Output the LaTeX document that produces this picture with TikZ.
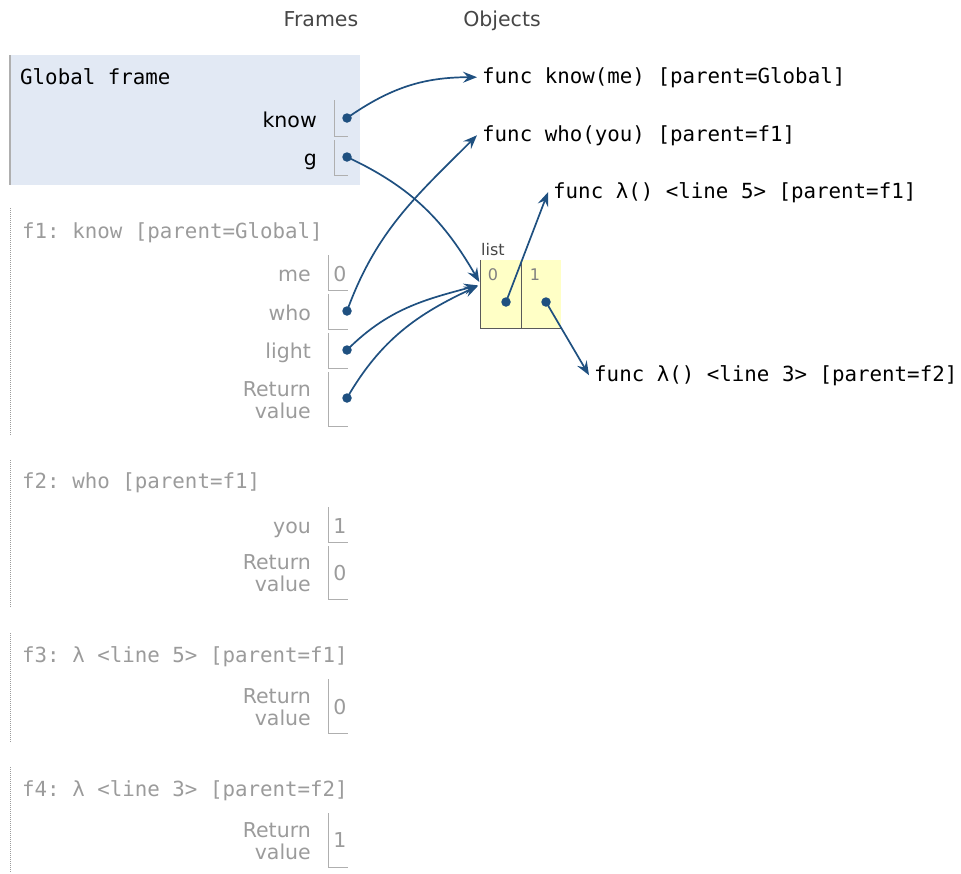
\documentclass[tikz,border=0pt]{standalone}
\usepackage{fontspec}
\setmainfont{DejaVu Sans}
\setmonofont{DejaVu Sans Mono}
\usetikzlibrary{arrows.meta,positioning}

\definecolor{ptr}{RGB}{31,80,128}
\definecolor{globalbg}{RGB}{226,233,244}
\definecolor{fgray}{RGB}{155,155,155}
\definecolor{slotgray}{RGB}{175,175,175}
\definecolor{hdrgray}{RGB}{70,70,70}
\definecolor{listbg}{RGB}{255,255,198}
\definecolor{listline}{RGB}{90,90,90}

\begin{document}
\begin{tikzpicture}[x=1pt,y=1pt,
  every node/.style={inner sep=0pt},
  mono/.style={font=\ttfamily\fontsize{20.8}{25}\selectfont},
  sans/.style={font=\fontsize{20.5}{22}\selectfont},
  hdr/.style={sans, text=hdrgray, anchor=base},
  ftitle/.style={mono, text=fgray, anchor=base west},
  var/.style={sans, anchor=base east},
  rv/.style={sans, align=right, anchor=east, text=fgray},
  val/.style={sans, anchor=base, text=fgray},
  slot/.style={draw=slotgray, line width=1pt},
  frameedge/.style={draw=fgray, line width=1pt, densely dotted},
  dot/.style={circle, fill=ptr, minimum size=9.5pt},
  obj/.style={mono, anchor=base west, inner xsep=5pt},
  ptrarrow/.style={draw=ptr, line width=1.7pt, -{Stealth[length=14pt,width=11pt,inset=5pt]}},
  cell/.style={fill=listbg, minimum width=40pt, minimum height=68pt},
]
\useasboundingbox (0,0) rectangle (961,-873);

\node[hdr] (hframes) at (321,-26) {Frames};
\node[hdr] (hobjects) at (502,-26) {Objects};

\fill[globalbg] (9,-55) rectangle (360,-185);
\draw[slotgray, line width=2pt] (10,-55) -- (10,-185);
\node[mono, anchor=base west] (gtitle) at (20,-84) {Global frame};
\node[var] (vknow) at (317,-127) {know};
\node[var] (vg) at (317,-165) {g};
\draw[slot] (334,-100) |- (348,-136);
\draw[slot] (334,-140) |- (348,-175);
\node[dot] (dknow) at (347,-118) {};
\node[dot] (dg) at (347,-157) {};

\draw[frameedge] (10,-208) -- (10,-436);
\node[ftitle] (f1title) at (22,-238) {f1: know [parent=Global]};
\node[var, text=fgray] (vme) at (311,-281) {me};
\node[var, text=fgray] (vwho) at (311,-320) {who};
\node[var, text=fgray] (vlight) at (311,-358) {light};
\node[rv] (f1ret) at (311,-400) {Return\\value};
\draw[slot] (328,-255) |- (348,-290);
\draw[slot] (328,-294) |- (348,-329);
\draw[slot] (328,-333) |- (348,-368);
\draw[slot] (328,-372) |- (348,-426);
\node[val] (me0) at (340,-281) {0};
\node[dot] (dwho) at (347,-311) {};
\node[dot] (dlight) at (347,-350) {};
\node[dot] (dret) at (347,-398) {};

\draw[frameedge] (10,-460) -- (10,-608);
\node[ftitle] (f2title) at (22,-488) {f2: who [parent=f1]};
\node[var, text=fgray] (vyou) at (311,-533) {you};
\node[rv] (f2ret) at (311,-573) {Return\\value};
\draw[slot] (328,-507) |- (348,-542);
\draw[slot] (328,-546) |- (348,-599);
\node[val] (you1) at (340,-533) {1};
\node[val] (f2ret0) at (340,-580) {0};

\draw[frameedge] (10,-633) -- (10,-742);
\node[ftitle] (f3title) at (22,-662) {f3: λ <line 5> [parent=f1]};
\node[rv] (f3ret) at (311,-707) {Return\\value};
\draw[slot] (328,-679) |- (348,-733);
\node[val] (f3ret0) at (340,-714) {0};

\draw[frameedge] (10,-767) -- (10,-873);
\node[ftitle] (f4title) at (22,-796) {f4: λ <line 3> [parent=f2]};
\node[rv] (f4ret) at (311,-841) {Return\\value};
\draw[slot] (328,-813) |- (348,-867);
\node[val] (f4ret1) at (340,-847) {1};

\node[obj] (oknow) at (477,-83) {func know(me) [parent=Global]};
\node[obj] (owho) at (477,-141) {func who(you) [parent=f1]};
\node[obj] (olam5) at (548,-198) {func λ() <line 5> [parent=f1]};
\node[obj] (olam3) at (589,-381) {func λ() <line 3> [parent=f2]};

\node[sans, font=\fontsize{16}{18}\selectfont, text=hdrgray, anchor=base west] (llist) at (481,-255) {list};
\node[cell] (l0) at (501,-294) {};
\node[cell, right=0pt of l0] (l1) {};
\draw[listline, line width=1pt] (l0.north west) -- (l0.south west) -- (l1.south east);
\draw[listline, line width=1pt] (l0.north east) -- (l0.south east);
\node[font=\fontsize{16}{18}\selectfont, text=gray] (i0) at (493,-275) {0};
\node[font=\fontsize{16}{18}\selectfont, text=gray] (i1) at (535,-275) {1};
\node[dot] (d0) at (506,-302) {};
\node[dot] (d1) at (546,-302) {};

\draw[ptrarrow] (dknow.center) to[out=35,in=180] (oknow.west);
\draw[ptrarrow, shorten >=3pt] (dg.center) to[out=-25,in=120] (l0.155);
\draw[ptrarrow] (dwho.center) to[out=70,in=-135] (owho.west);
\draw[ptrarrow, shorten >=3pt] (dlight.center) to[out=45,in=195] (l0.155);
\draw[ptrarrow, shorten >=3pt] (dret.center) to[out=60,in=205] (l0.155);
\draw[ptrarrow] (d0.center) -- (olam5.west);
\draw[ptrarrow] (d1.center) -- (olam3.west);
\end{tikzpicture}
\end{document}
